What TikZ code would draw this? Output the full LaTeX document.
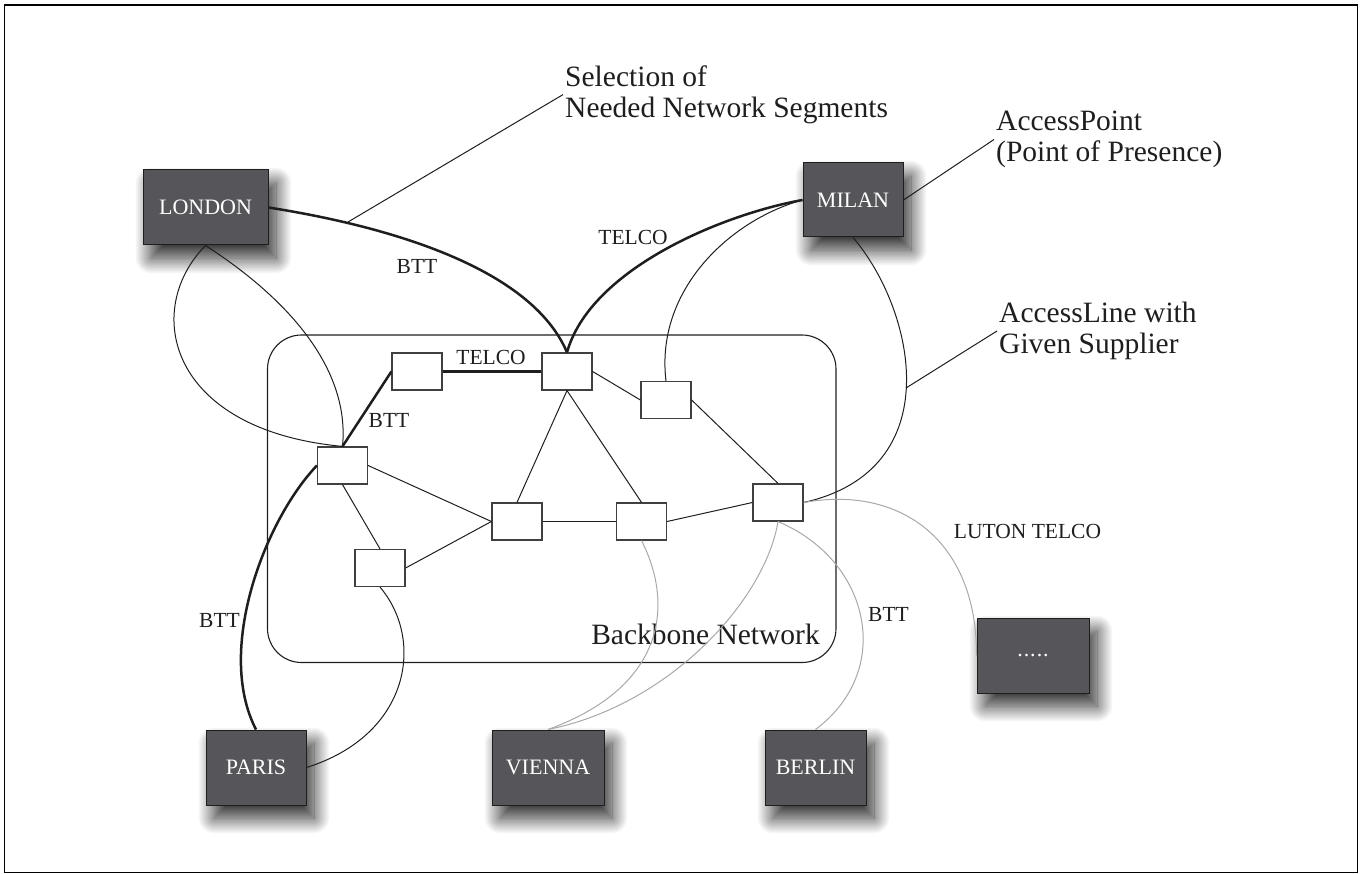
\documentclass[tikz,border=0pt]{standalone}
\usepackage{fontspec}
\setmainfont{Liberation Serif}
\usetikzlibrary{shadows.blur}

\definecolor{citygray}{RGB}{86,86,90}
\definecolor{linkgray}{RGB}{168,168,168}
\definecolor{inkblack}{RGB}{30,30,30}

\begin{document}
\begin{tikzpicture}[
    x=1pt, y=-1pt,
    city/.style={draw=inkblack, line width=1pt, fill=citygray, text=white, inner sep=0pt,
        font=\fontsize{22}{24}\selectfont,
        blur shadow={shadow xshift=8pt, shadow yshift=-13pt, shadow blur radius=16pt,
            shadow blur steps=40, shadow opacity=85}},
    hub/.style={draw=inkblack!85, line width=1.2pt, fill=white, minimum width=50pt, minimum height=37pt, inner sep=0pt},
    line style/.style={inkblack, line width=1pt},
    trunk style/.style={inkblack, line width=2.5pt},
    grey style/.style={linkgray, line width=1pt},
    tag/.style={font=\fontsize{21.5}{23}\selectfont, inner sep=0pt, text=inkblack},
    note/.style={font=\fontsize{29.5}{31}\selectfont, align=left, inner sep=2pt, text=inkblack, anchor=west}
]

    \useasboundingbox (0,0) rectangle (1360,874);
    \draw[line width=1.5pt] (4.5,5) rectangle (1357.5,872.5);

    % Backbone area
    \node[draw=inkblack, line width=1.1pt, rounded corners=34pt, minimum width=568.5pt, minimum height=327.5pt, inner sep=0pt] (backbone) at (551.75,498.75) {};
    \node[note, anchor=base east] (bbnote) at (822,644) {Backbone Network};

    % Access points
    \node[city, minimum width=125pt, minimum height=75pt] (london) at (205.5,207.5) {LONDON};
    \node[city, minimum width=100pt, minimum height=74pt] (milan) at (853,200) {MILAN};
    \node[city, minimum width=100pt, minimum height=75pt] (paris) at (256,767.5) {PARIS};
    \node[city, minimum width=112pt, minimum height=75pt] (vienna) at (548,767.5) {VIENNA};
    \node[city, minimum width=101pt, minimum height=75pt] (berlin) at (815.5,767.5) {BERLIN};
    \node[city, minimum width=112pt, minimum height=75pt] (more) at (1033,655.5) {.\kern1pt.\kern1pt.\kern1pt.\kern1pt.};

    % Backbone nodes
    \node[hub] (r1) at (417,371.5) {};
    \node[hub] (r2) at (567,371.5) {};
    \node[hub] (r3) at (666,400) {};
    \node[hub] (r4) at (342.5,465.5) {};
    \node[hub] (r5) at (517,521.5) {};
    \node[hub] (r6) at (641.5,521.5) {};
    \node[hub] (r7) at (380,568) {};
    \node[hub] (r8) at (778,502.5) {};

    % Backbone links
    \foreach \a/\b in {r2.east/r3.west, r3.east/r8.north, r2.south/r5.north, r2.south/r6.north,
                       r4.east/r5.west, r4.south/r7.north, r7.east/r5.west, r5.east/r6.west, r6.east/r8.west} {
        \draw[line style] (\a) -- (\b);
    }

    % Selected segments
    \draw[trunk style] (r1.east) -- (r2.west);
    \draw[trunk style] (r4.north) -- (r1.west);
    \draw[trunk style] (london.east) .. controls (380,225) and (530,265) .. (r2.north);
    \draw[trunk style] (milan.west) .. controls (720,215) and (590,270) .. (r2.north);
    \draw[trunk style] (r4.west) .. controls (265,520) and (215,650) .. (paris.north);

    % Other access lines
    \draw[line style] (london.south) .. controls (142,310) and (168,430) .. (r4.north);
    \draw[line style] (london.south) .. controls (290,300) and (350,370) .. (r4.north);
    \draw[line style] (milan.west) .. controls (730,220) and (655,290) .. (r3.north);
    \draw[line style] (milan.south) .. controls (915,310) and (950,470) .. (r8.east);
    \draw[line style] (r7.south) .. controls (425,640) and (410,735) .. (paris.east);

    % Lines of other suppliers
    \draw[grey style] (r6.south) .. controls (672,600) and (670,685) .. (vienna.north);
    \draw[grey style] (r8.south) .. controls (765,600) and (670,705) .. (vienna.north);
    \draw[grey style] (r8.south) .. controls (870,560) and (895,670) .. (berlin.north);
    \draw[grey style] (r8.east) .. controls (900,485) and (977,540) .. (more.west);

    % Line labels
    \node[tag] (t1) at (417,266) {BTT};
    \node[tag] (t2) at (633,237) {TELCO};
    \node[tag] (t3) at (491,357.5) {TELCO};
    \node[tag] (t4) at (389,420.5) {BTT};
    \node[tag] (t5) at (219.5,620) {BTT};
    \node[tag] (t6) at (888.5,614) {BTT};
    \node[tag] (t7) at (1027.5,531.5) {LUTON TELCO};

    % Notes
    \node[note] (selnote) at (563,94.6) {Selection of\\Needed Network Segments};
    \node[note] (apnote) at (994,139.5) {AccessPoint\\(Point of Presence)};
    \node[note] (alnote) at (997,331) {AccessLine with\\Given Supplier};
    \coordinate (selfoot) at (348,222);
    \coordinate (linefoot) at (906,388);
    \draw[line style] (selfoot) -- (selnote.west);
    \draw[line style] (milan.east) -- (apnote.west);
    \draw[line style] (linefoot) -- (alnote.west);

\end{tikzpicture}
\end{document}
